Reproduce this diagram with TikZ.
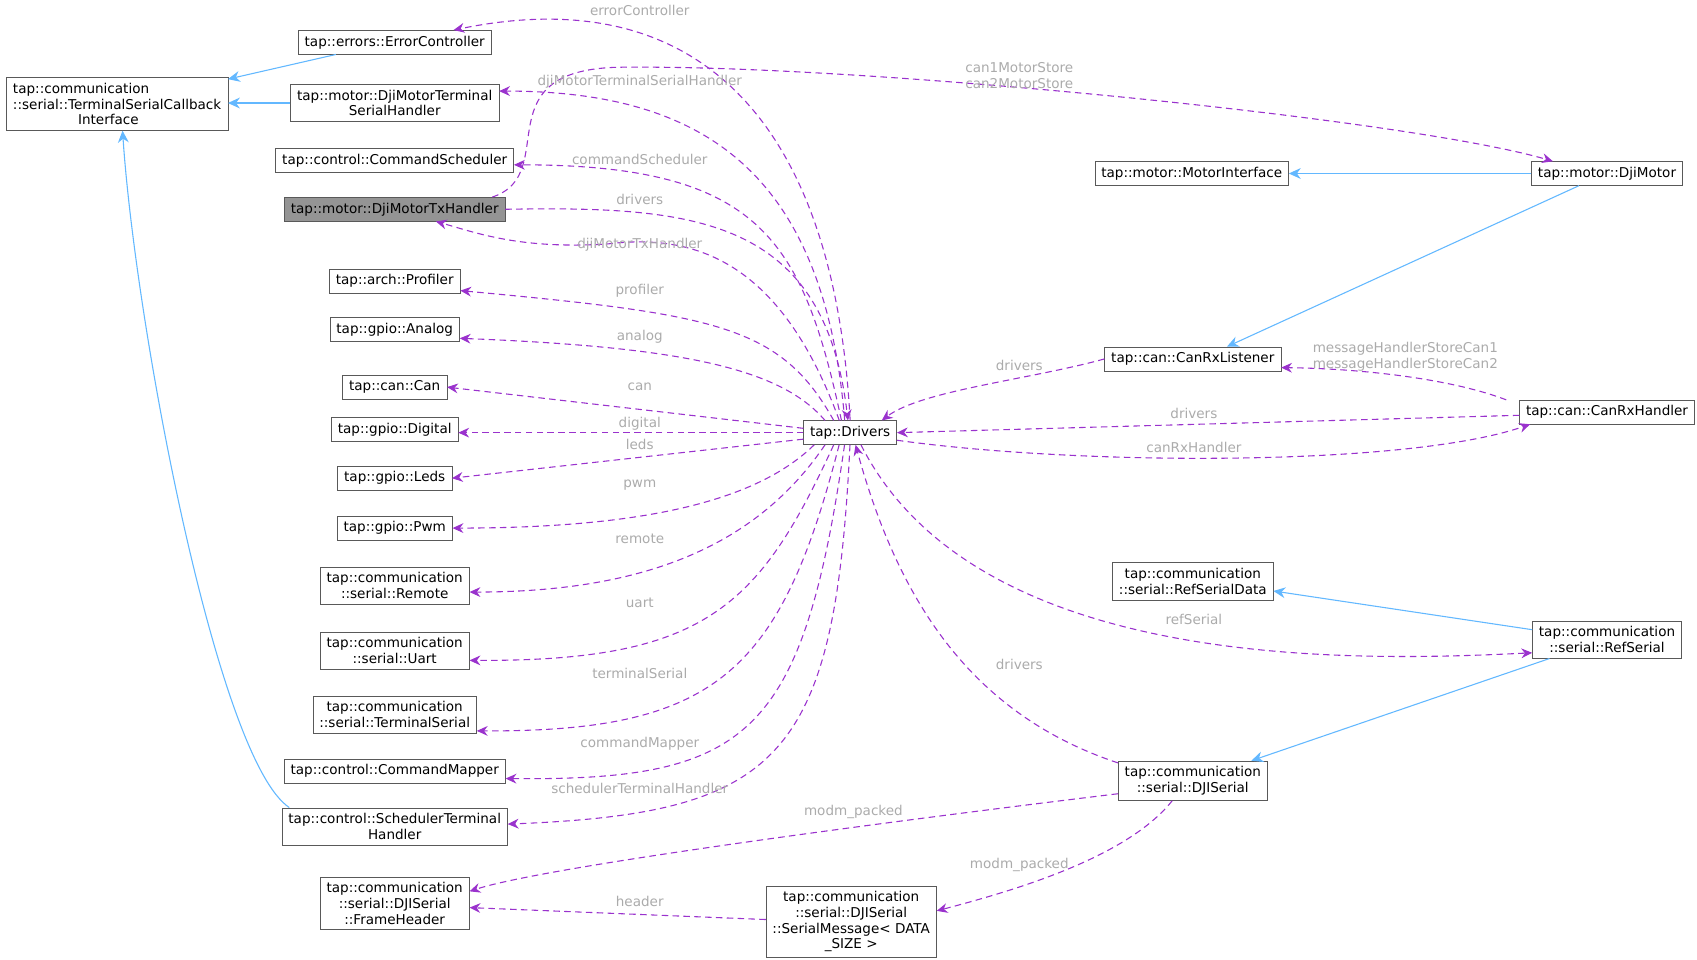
\documentclass[tikz,border=0pt]{standalone}
\usepackage{fontspec}
\setmainfont{DejaVu Sans}
\usepackage[dvipsnames]{xcolor}
\usepackage{tikz}
\usetikzlibrary{arrows.meta,calc}
\definecolor{depcol}{HTML}{9A32CD}
\definecolor{inhcol}{HTML}{63B8FF}
\definecolor{lblcol}{HTML}{ABABAB}
\tikzset{
  cls/.style={draw=black!65,fill=white,font=\fontsize{12.5}{14.5}\selectfont,align=center,inner xsep=6pt,inner ysep=5pt},
  dep/.style={draw=depcol,dash pattern=on 6pt off 4pt,line width=1pt,-{Stealth[length=10pt,width=9pt]}},
  inh/.style={draw=inhcol,line width=1pt,-{Stealth[length=11pt,width=10pt]}},
  lbl/.style={text=lblcol,font=\fontsize{12.5}{14.5}\selectfont,align=center}
}
\begin{document}
\begin{tikzpicture}[x=1pt,y=-1pt]
      \useasboundingbox (0,0) rectangle (1565,885);
      % left column
      \node[cls,align=left] (tsci) at (108,96) {tap::communication\\::serial::TerminalSerialCallback\\\hspace*{60pt}Interface};
      \node[cls] (ec) at (364,39) {tap::errors::ErrorController};
      \node[cls] (dmtsh) at (364,95) {tap::motor::DjiMotorTerminal\\SerialHandler};
      \node[cls] (cs) at (364,148) {tap::control::CommandScheduler};
      \node[cls,fill=black!42] (tx) at (364,193) {tap::motor::DjiMotorTxHandler};
      \node[cls] (prof) at (364,259) {tap::arch::Profiler};
      \node[cls] (ana) at (364,304) {tap::gpio::Analog};
      \node[cls] (can) at (364,357) {tap::can::Can};
      \node[cls] (dig) at (364,396) {tap::gpio::Digital};
      \node[cls] (leds) at (364,441) {tap::gpio::Leds};
      \node[cls] (pwm) at (364,487) {tap::gpio::Pwm};
      \node[cls] (rem) at (364,540) {tap::communication\\::serial::Remote};
      \node[cls] (uart) at (364,600) {tap::communication\\::serial::Uart};
      \node[cls] (ts) at (364,659) {tap::communication\\::serial::TerminalSerial};
      \node[cls] (cm) at (364,711) {tap::control::CommandMapper};
      \node[cls] (sth) at (364,762) {tap::control::SchedulerTerminal\\Handler};
      \node[cls] (fh) at (364,833) {tap::communication\\::serial::DJISerial\\::FrameHeader};
      % middle and right
      \node[cls] (sm) at (785,850) {tap::communication\\::serial::DJISerial\\::SerialMessage< DATA\\\_SIZE >};
      \node[cls] (drv) at (784,399) {tap::Drivers};
      \node[cls] (djis) at (1100,720) {tap::communication\\::serial::DJISerial};
      \node[cls] (rsd) at (1100,536) {tap::communication\\::serial::RefSerialData};
      \node[cls] (crl) at (1100,331) {tap::can::CanRxListener};
      \node[cls] (mi) at (1099,160) {tap::motor::MotorInterface};
      \node[cls] (dm) at (1482,160) {tap::motor::DjiMotor};
      \node[cls] (crh) at (1482,380) {tap::can::CanRxHandler};
      \node[cls] (rs) at (1482,590) {tap::communication\\::serial::RefSerial};
      % inheritance
      \draw[inh] ($(ec.south west)+(35,0)$) -- (tsci.north east |- 0,73);
      \draw[inh] (dmtsh.west) -- (tsci.east |- dmtsh.west);
      \draw[inh] ($(sth.north west)+(7,0)$) .. controls (200,700) and (125,300) .. (tsci.south -| 113,0);
      \draw[inh] (dm.west) -- (mi.east);
      \draw[inh] ($(dm.south west)+(44,0)$) -- ($(crl.north east)+(-50,0)$);
      \draw[inh] ($(rs.north west)+(0,8)$) -- (rsd.east |- 0,545);
      \draw[inh] ($(rs.south west)+(16,0)$) -- ($(djis.north east)+(-15,0)$);
      % members of drivers
      \draw[dep] (drv.north) .. controls (770,120) and (650,-20) .. ($(ec.north east)+(-35,0)$);
      \draw[dep] ($(drv.north)+(-5,0)$) .. controls (760,160) and (650,84) .. (dmtsh.east |- 0,84);
      \draw[dep] ($(drv.north)+(-8,0)$) .. controls (740,220) and (700,152) .. (cs.east |- 0,152);
      \draw[dep] (tx.east) .. controls (640,190) and (760,200) .. ($(drv.north)+(-2,0)$);
      \draw[dep] ($(drv.north)+(-10,0)$) .. controls (720,240) and (640,215) .. (560,225) .. controls (480,230) and (440,215) .. ($(tx.south)+(38,0)$);
      \draw[dep] ($(drv.north west)+(28,0)$) .. controls (720,300) and (660,290) .. (prof.east |- 0,268);
      \draw[dep] ($(drv.north west)+(20,0)$) .. controls (720,340) and (630,320) .. (ana.east |- 0,312);
      \draw[dep] ($(drv.west)+(0,-4)$) -- (can.east);
      \draw[dep] (drv.west) -- (dig.east |- drv.west);
      \draw[dep] ($(drv.west)+(0,6)$) -- (leds.east);
      \draw[dep] ($(drv.south west)+(10,0)$) .. controls (700,460) and (600,487) .. (pwm.east);
      \draw[dep] ($(drv.south west)+(20,0)$) .. controls (700,500) and (600,546) .. (rem.east |- 0,546);
      \draw[dep] ($(drv.south west)+(28,0)$) .. controls (700,560) and (650,610) .. (uart.east |- 0,609);
      \draw[dep] ($(drv.south west)+(33,0)$) .. controls (720,620) and (660,675) .. (ts.east |- 0,674);
      \draw[dep] ($(drv.south west)+(38,0)$) .. controls (740,680) and (690,720) .. (cm.east |- 0,718);
      \draw[dep] ($(drv.south west)+(43,0)$) .. controls (770,700) and (720,750) .. (sth.east |- 0,760);
      % DjiMotor stores
      \draw[dep] ($(tx.north east)+(-12,0)$) .. controls (520,160) and (440,60) .. (580,62) .. controls (800,60) and (1300,110) .. ($(dm.north west)+(20,0)$);
      % right side
      \draw[dep] (crl.west) .. controls (950,350) and (850,360) .. ($(drv.north east)+(-14,0)$);
      \draw[dep] ($(crh.north west)+(-12,0)$) .. controls (1340,350) and (1260,340) .. ($(crl.east)+(0,8)$);
      \draw[dep] ($(crh.west)+(0,3)$) -- (drv.east);
      \draw[dep] ($(drv.east)+(0,7)$) .. controls (1000,430) and (1300,430) .. ($(crh.south west)+(10,0)$);
      \draw[dep] ($(drv.south)+(10,0)$) .. controls (900,620) and (1250,610) .. ($(rs.west)+(0,12)$);
      \draw[dep] ($(djis.north west)+(0,2)$) .. controls (900,660) and (830,560) .. ($(drv.south)+(5,0)$);
      \draw[dep] ($(djis.west)+(0,12)$) .. controls (800,760) and (500,800) .. (fh.east |- 0,822);
      \draw[dep] ($(djis.south west)+(50,0)$) .. controls (1040,790) and (940,820) .. (sm.east |- 0,840);
      \draw[dep] (sm.west |- 0,848) -- (fh.east |- 0,837);
      % edge labels
      \node[lbl] (l01) at (590,10) {errorController};
      \node[lbl] (l02) at (590,75) {djiMotorTerminalSerialHandler};
      \node[lbl] (l03) at (940,70) {can1MotorStore\\can2MotorStore};
      \node[lbl] (l04) at (590,147) {commandScheduler};
      \node[lbl] (l05) at (590,184) {drivers};
      \node[lbl] (l06) at (590,226) {djiMotorTxHandler};
      \node[lbl] (l07) at (590,268) {profiler};
      \node[lbl] (l08) at (590,311) {analog};
      \node[lbl] (l09) at (590,357) {can};
      \node[lbl] (l10) at (590,391) {digital};
      \node[lbl] (l11) at (590,410) {leds};
      \node[lbl] (l12) at (590,447) {pwm};
      \node[lbl] (l13) at (590,497) {remote};
      \node[lbl] (l14) at (590,556) {uart};
      \node[lbl] (l15) at (590,621) {terminalSerial};
      \node[lbl] (l16) at (590,686) {commandMapper};
      \node[lbl] (l17) at (590,727) {schedulerTerminalHandler};
      \node[lbl] (l18) at (940,337) {drivers};
      \node[lbl] (l19) at (1296,329) {messageHandlerStoreCan1\\messageHandlerStoreCan2};
      \node[lbl] (l20) at (1101,381) {drivers};
      \node[lbl] (l21) at (1101,413) {canRxHandler};
      \node[lbl] (l22) at (1101,571) {refSerial};
      \node[lbl] (l23) at (940,613) {drivers};
      \node[lbl] (l24) at (787,749) {modm\_packed};
      \node[lbl] (l25) at (940,798) {modm\_packed};
      \node[lbl] (l26) at (590,831) {header};
    \end{tikzpicture}
\end{document}
